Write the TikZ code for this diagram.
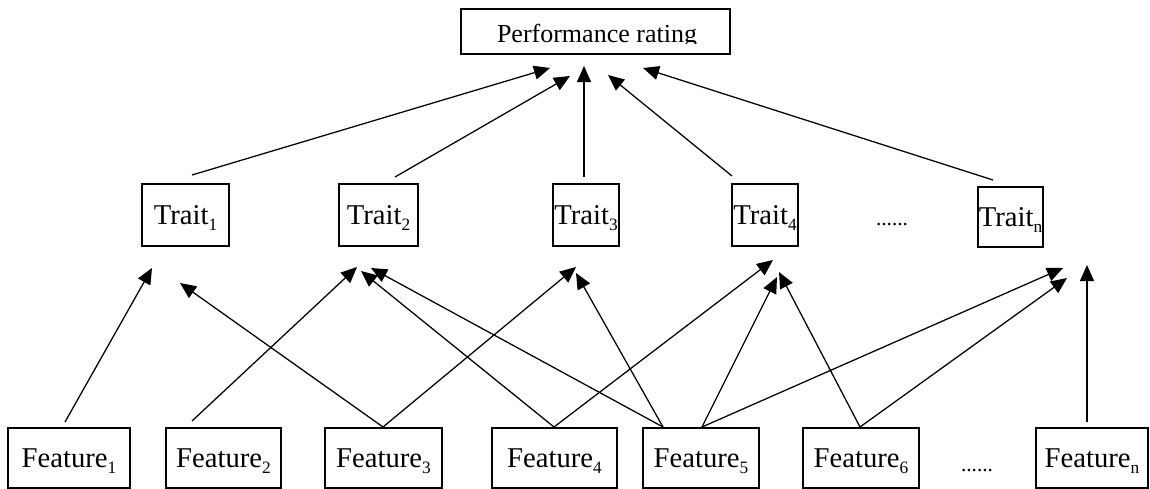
\documentclass[tikz,border=0pt]{standalone}
\usepackage{fontspec}
\setmainfont{Liberation Serif}
\usetikzlibrary{arrows.meta}
\newcommand\ssub[1]{\raisebox{-4.5pt}{\fontsize{13}{13}\selectfont #1}}

\begin{document}
\begin{tikzpicture}[x=0.75pt,y=-0.75pt,
  box/.style={draw, line width=1.8pt, rectangle, inner sep=0pt,
              text height=14pt, text depth=0pt, font=\fontsize{21.5}{24}\selectfont},
  bw/.style={minimum width=#1*0.75pt},
  bh/.style={minimum height=#1*0.75pt},
  link/.style={line width=0.95pt, -{Triangle[length=12pt,width=10.5pt]}},
  dots/.style={inner sep=0pt, anchor=base, font=\fontsize{16}{18}\selectfont},
]
\useasboundingbox (0,0) rectangle (1150,489);

% top node, its label cut off at the bottom
\node[draw, line width=1.8pt, inner sep=0pt, bw=269, bh=45] (perf) at (595.5,31.5) {};
\begin{scope}
  \clip (462,10) rectangle (729,43.5);
  \node[anchor=base, inner sep=0pt, font=\fontsize{19.5}{22}\selectfont] (perflabel) at (597,42) {Performance rating};
\end{scope}

% traits
\node[box, bw=87, bh=62] (t1) at (185.5,215) {Trait\ssub{1}};
\node[box, bw=79, bh=62] (t2) at (378.5,215) {Trait\ssub{2}};
\node[box, bw=66, bh=62] (t3) at (586,215)   {Trait\ssub{3}};
\node[box, bw=66, bh=62] (t4) at (765,215)   {Trait\ssub{4}};
\node[box, bw=65, bh=60] (tn) at (1010.5,217) {Trait\ssub{n}};
\node[dots] (tdots) at (892,225) {......};

% features
\node[box, bw=122, bh=60] (f1) at (69,458)    {Feature\ssub{1}};
\node[box, bw=115, bh=60] (f2) at (223.5,458) {Feature\ssub{2}};
\node[box, bw=117, bh=60] (f3) at (383.5,458) {Feature\ssub{3}};
\node[box, bw=125, bh=60] (f4) at (554.5,458) {Feature\ssub{4}};
\node[box, bw=116, bh=60] (f5) at (701,458)   {Feature\ssub{5}};
\node[box, bw=116, bh=60] (f6) at (861,458)   {Feature\ssub{6}};
\node[box, bw=112, bh=60] (fn) at (1092,458)  {Feature\ssub{n}};
\node[dots] (fdots) at (977,471) {......};

% connector ends above the traits and below the rating
\coordinate (t1o) at (192,175);
\coordinate (t2o) at (395,177);
\coordinate (t3o) at (584,177);
\coordinate (t4o) at (732,176);
\coordinate (tno) at (993,180);
\coordinate (p1) at (550,68);
\coordinate (p2) at (570,76);
\coordinate (p3) at (584,66);
\coordinate (p4) at (608,75);
\coordinate (p5) at (643,68);

\draw[link] (t1o) -- (p1);
\draw[link] (t2o) -- (p2);
\draw[link] (t3o) -- (p3);
\draw[link] (t4o) -- (p4);
\draw[link] (tno) -- (p5);

% connector ends on top of the features and below the traits
\coordinate (f1o) at (65,422);
\coordinate (f2o) at (192,421);
\coordinate (f3o) at (383,427);
\coordinate (f4o) at (554,427);
\coordinate (f5l) at (663,427);
\coordinate (f5r) at (702,427);
\coordinate (f6o) at (860,427);
\coordinate (fno) at (1087,422);

\coordinate (a1r) at (152,268);
\coordinate (a1l) at (180,283);
\coordinate (a2r) at (357,267);
\coordinate (a2m) at (361,271);
\coordinate (a2l) at (371,268);
\coordinate (a3r) at (576,267);
\coordinate (a3l) at (576,273);
\coordinate (a4r) at (773,260);
\coordinate (a4m) at (777,277);
\coordinate (a4l) at (779,272);
\coordinate (anr) at (1063,268);
\coordinate (anl) at (1067,278);
\coordinate (anv) at (1087,265);

\draw[link] (f1o) -- (a1r);
\draw[link] (f2o) -- (a2r);
\draw[link] (f3o) -- (a1l);
\draw[link] (f3o) -- (a3r);
\draw[link] (f4o) -- (a2m);
\draw[link] (f4o) -- (a4r);
\draw[link] (f5l) -- (a2l);
\draw[link] (f5l) -- (a3l);
\draw[link] (f5r) -- (a4m);
\draw[link] (f5r) -- (anr);
\draw[link] (f6o) -- (a4l);
\draw[link] (f6o) -- (anl);
\draw[link] (fno) -- (anv);
\end{tikzpicture}
\end{document}
